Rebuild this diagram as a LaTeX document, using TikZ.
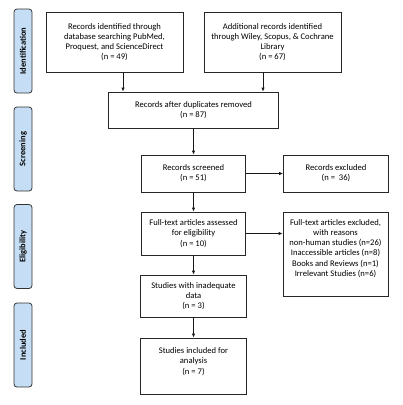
\documentclass[tikz,border=0pt]{standalone}
\usepackage{fontspec}
\setmainfont{Carlito}
\usetikzlibrary{arrows.meta}
\definecolor{phaseblue}{RGB}{197,222,245}
\tikzset{
  box/.style={draw=black!85, line width=0.8pt, align=center, font=\fontsize{8.6}{10.2}\selectfont, inner sep=2pt},
  phase/.style={draw=black!80, line width=0.8pt, fill=phaseblue, rounded corners=3pt, minimum width=84pt, minimum height=18pt, rotate=90, font=\fontsize{8.5}{10}\selectfont\bfseries},
  arr/.style={-{Latex[length=4pt,width=3.5pt]}, line width=0.8pt, black!90}
}
\begin{document}
\begin{tikzpicture}[x=1pt, y=-1pt]
  \useasboundingbox (0,0) rectangle (403,405);
  % phases
  \node[phase] (pid) at (23,51) {Identification};
  \node[phase] (psc) at (23,149) {Screening};
  \node[phase] (pel) at (23,246.5) {Eligibility};
  \node[phase] (pin) at (23,345) {Included};
  % boxes
  \node[box, minimum width=137pt, minimum height=60pt] (db) at (114.5,42) {Records identified through\\database searching PubMed,\\Proquest, and ScienceDirect\\(n = 49)};
  \node[box, minimum width=137pt, minimum height=60pt] (other) at (272.5,42) {Additional records identified\\through Wiley, Scopus, \& Cochrane\\Library\\(n = 67)};
  \node[box, minimum width=170pt, minimum height=36pt] (dup) at (193.5,110) {Records after duplicates removed\\(n = 87)};
  \node[box, minimum width=104pt, minimum height=37pt] (scr) at (193.5,173.5) {Records screened\\(n = 51)};
  \node[box, minimum width=105pt, minimum height=37pt] (exc) at (336,173.5) {Records excluded\\(n =~~36)};
  \node[box, minimum width=104pt, minimum height=43pt] (full) at (193.5,233.5) {Full-text articles assessed\\for eligibility\\(n = 10)};
  \node[box, minimum width=105pt, minimum height=84pt] (fexc) at (335.5,254) {Full-text articles excluded,\\with reasons\\non-human studies (n=26)\\Inaccessible articles (n=8)\\Books and Reviews (n=1)\\Irrelevant Studies (n=6)\\[2pt]};
  \node[box, minimum width=106pt, minimum height=42pt] (inad) at (193.5,296) {Studies with inadequate\\data\\(n = 3)};
  \node[box, minimum width=106pt, minimum height=56pt] (incl) at (193.5,366) {Studies included for\\analysis\\(n = 7)\\{}};
  % arrows
  \draw[arr] ([xshift=8.5pt]db.south) -- ([xshift=8.5pt]db.south |- dup.north);
  \draw[arr] ([xshift=-9.5pt]other.south) -- ([xshift=-9.5pt]other.south |- dup.north);
  \draw[arr] (dup) -- (scr);
  \draw[arr] (scr) -- (exc);
  \draw[arr] (scr) -- (full);
  \draw[arr] (full.east) -- (fexc.west |- full.east);
  \draw[arr] (full) -- (inad);
  \draw[arr] (inad) -- (incl);
\end{tikzpicture}
\end{document}
